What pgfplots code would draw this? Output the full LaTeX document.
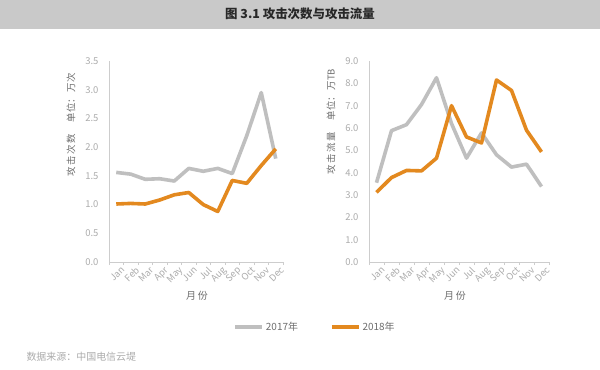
\documentclass[border=0pt]{standalone}
\usepackage{fontspec}
\setmainfont{Noto Sans CJK SC}
\usepackage{pgfplots}
\pgfplotsset{compat=1.18}
\definecolor{gline}{RGB}{191,191,191}
\definecolor{oline}{RGB}{227,137,31}
\definecolor{axgray}{RGB}{205,205,205}
\definecolor{ticklbl}{RGB}{172,172,172}
\definecolor{lblgray}{RGB}{110,110,110}
\definecolor{titlebg}{RGB}{201,201,201}
\definecolor{titletxt}{RGB}{40,40,40}
\pgfplotsset{
  mystyle/.style={
    scale only axis,
    anchor=south west,
    xmin=-0.5, xmax=11.5, ymin=0,
    axis x line*=bottom, axis y line*=left,
    axis line style={draw=axgray, line width=0.9bp},
    xtick={0,...,11},
    xticklabels={Jan,Feb,Mar,Apr,May,Jun,Jul,Aug,Sep,Oct,Nov,Dec},
    minor xtick={-0.5,0.5,...,11.5},
    major tick length=0pt, minor tick length=3bp,
    tick align=outside,
    minor tick style={draw=axgray, line width=0.8bp},
    xticklabel style={rotate=45, anchor=north east, font=\fontsize{9.3}{10}\selectfont, color=ticklbl, inner sep=0.5bp, xshift=2.8bp, yshift=-2.8bp},
    yticklabel style={font=\fontsize{9.5}{10}\selectfont, color=ticklbl},
    yticklabel shift=7bp,
    xticklabel shift=3bp,
    /pgf/number format/assume math mode=true,
    yticklabel={\pgfmathprintnumber[fixed, fixed zerofill, precision=1]{\tick}},
    every axis plot/.append style={line width=3.6bp, line join=round, no markers},
    clip=false,
  }
}
\begin{document}
\begin{tikzpicture}[x=1bp,y=1bp]
\path[use as bounding box, fill=white] (0,0) rectangle (600,369);
\fill[titlebg] (0,340) rectangle (600,369);
\node[font=\fontsize{12.5}{14}\selectfont\bfseries, color=titletxt] at (300,355) {图 3.1 攻击次数与攻击流量};

\begin{axis}[mystyle,
  at={(109bp,107bp)}, width=174bp, height=201bp,
  ymax=3.5, ytick={0,0.5,...,3.5},
  legend columns=2,
  legend style={at={(1.184,-0.323)}, anchor=center, draw=none, fill=none,
    font=\fontsize{10}{11}\selectfont, text=lblgray,
    /tikz/every even column/.append style={column sep=30bp}},
  legend image code/.code={\draw[#1, line width=3.5bp] (0bp,0bp) -- (27bp,0bp);},
]
\addplot[gline] coordinates {(0,1.56) (1,1.53) (2,1.44) (3,1.45) (4,1.41) (5,1.63) (6,1.58) (7,1.63) (8,1.54) (9,2.20) (10,2.95) (11,1.80)};
\addlegendentry{2017年}
\addplot[oline] coordinates {(0,1.01) (1,1.02) (2,1.01) (3,1.08) (4,1.17) (5,1.21) (6,1.00) (7,0.88) (8,1.42) (9,1.37) (10,1.68) (11,1.97)};
\addlegendentry{2018年}
\end{axis}

\begin{axis}[mystyle,
  at={(369bp,107bp)}, width=180bp, height=201bp,
  ymax=9, ytick={0,1,...,9},
]
\addplot[gline] coordinates {(0,3.55) (1,5.88) (2,6.15) (3,7.05) (4,8.25) (5,6.20) (6,4.65) (7,5.78) (8,4.80) (9,4.25) (10,4.38) (11,3.38)};
\addplot[oline] coordinates {(0,3.12) (1,3.78) (2,4.10) (3,4.08) (4,4.65) (5,7.00) (6,5.60) (7,5.33) (8,8.15) (9,7.68) (10,5.90) (11,4.93)};
\end{axis}

\node[rotate=90, font=\fontsize{9.5}{10}\selectfont, color=lblgray] at (71,244) {攻\,击\,次\,数\hspace{12bp}单位：\,万次};
\node[rotate=90, font=\fontsize{9.5}{10}\selectfont, color=lblgray] at (331,247) {攻\,击\,流\,量\hspace{12bp}单位：\,万TB};
\node[font=\fontsize{10}{11}\selectfont, color=lblgray] at (197,73) {月\,份};
\node[font=\fontsize{10}{11}\selectfont, color=lblgray] at (455,73) {月\,份};
\node[anchor=west, font=\fontsize{10}{11}\selectfont, color=ticklbl] at (23,12) {数据来源：中国电信云堤};
\end{tikzpicture}
\end{document}
